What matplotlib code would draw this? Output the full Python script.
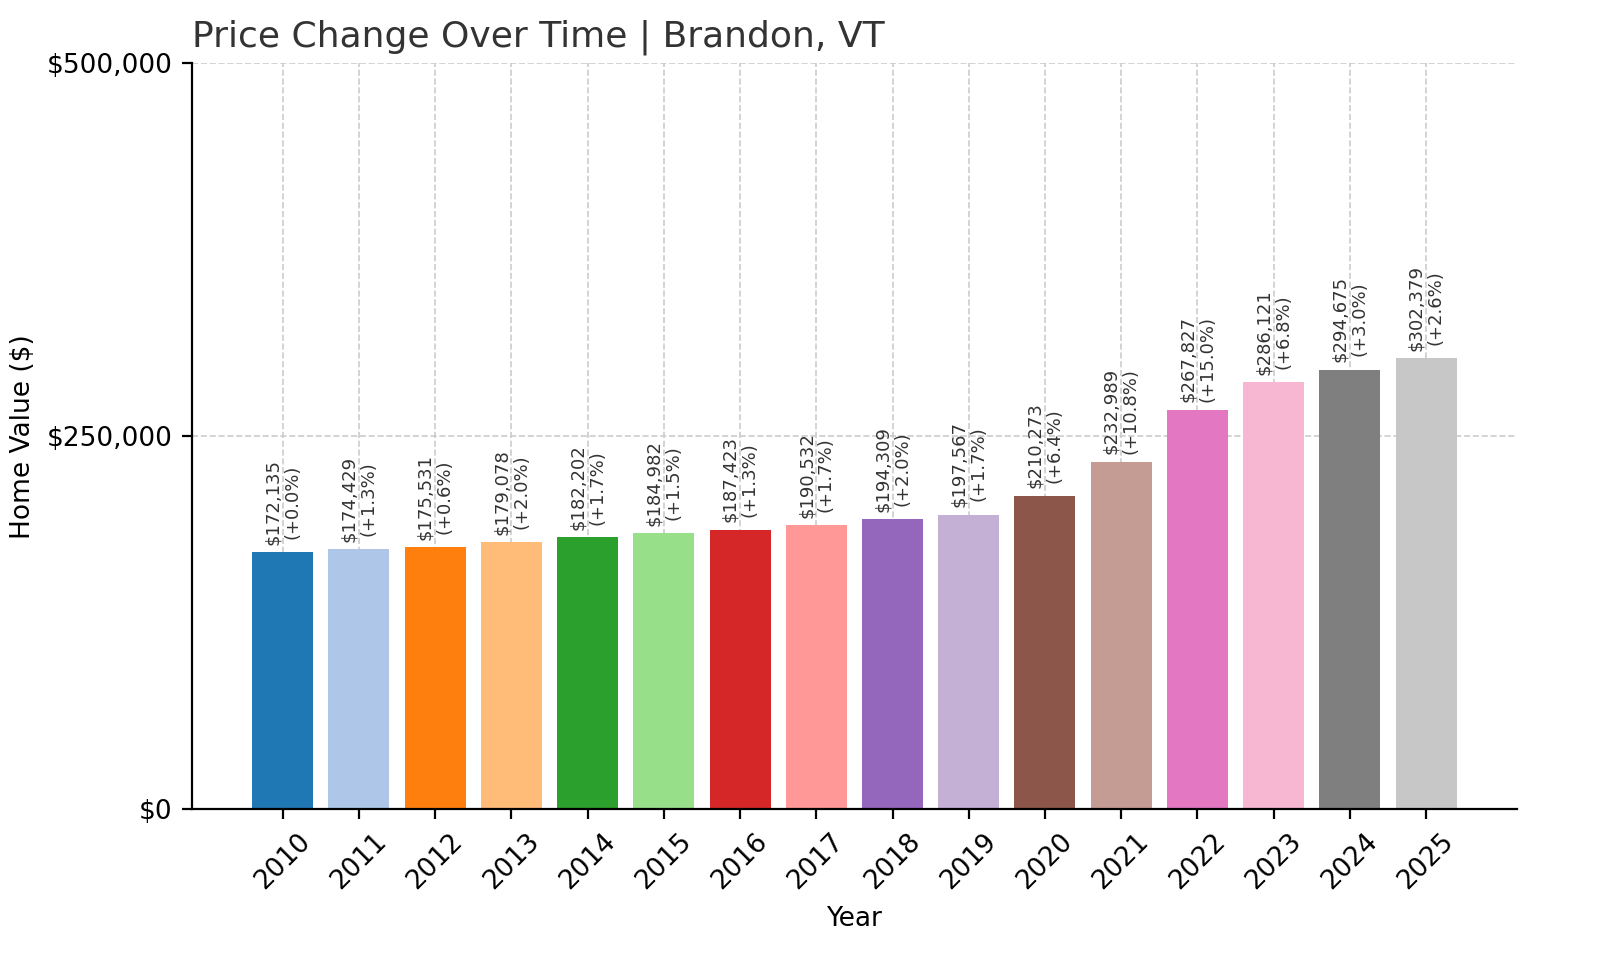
import matplotlib
matplotlib.use("Agg")
import matplotlib.pyplot as plt

years = [str(y) for y in range(2010, 2026)]
values = [172135, 174429, 175531, 179078, 182202, 184982, 187423, 190532,
          194309, 197567, 210273, 232989, 267827, 286121, 294675, 302379]
changes = ["+0.0%", "+1.3%", "+0.6%", "+2.0%", "+1.7%", "+1.5%", "+1.3%", "+1.7%",
           "+2.0%", "+1.7%", "+6.4%", "+10.8%", "+15.0%", "+6.8%", "+3.0%", "+2.6%"]

fig = plt.figure(figsize=(8, 4.8), dpi=200)
ax = fig.add_axes([0.12, 0.157, 0.828, 0.777])
colors = plt.get_cmap("tab20").colors
x = range(len(years))
ax.bar(x, values, color=colors[:len(years)], width=0.8, zorder=2)
for i, (v, c) in enumerate(zip(values, changes)):
    ax.text(i, v + 5000, f"${v:,}\n({c})", rotation=90, ha="center", va="bottom",
            fontsize=6.5, color="#333333", linespacing=1.1)
ax.set_xticks(list(x))
ax.set_xticklabels(years, rotation=45, fontsize=9.5)
ax.set_ylim(0, 500000)
ax.set_yticks([0, 250000, 500000])
ax.set_yticklabels(["$0", "$250,000", "$500,000"], fontsize=9.5)
ax.grid(True, linestyle="--", color="#cccccc", linewidth=0.6, zorder=0)
ax.set_axisbelow(True)
for s in ["top", "right"]:
    ax.spines[s].set_visible(False)
ax.set_xlabel("Year", fontsize=9.5)
ax.set_ylabel("Home Value ($)", fontsize=9.5)
ax.set_title("Price Change Over Time | Brandon, VT", fontsize=13, loc="left", color="#333333")
fig.savefig("out.png", dpi=200)
